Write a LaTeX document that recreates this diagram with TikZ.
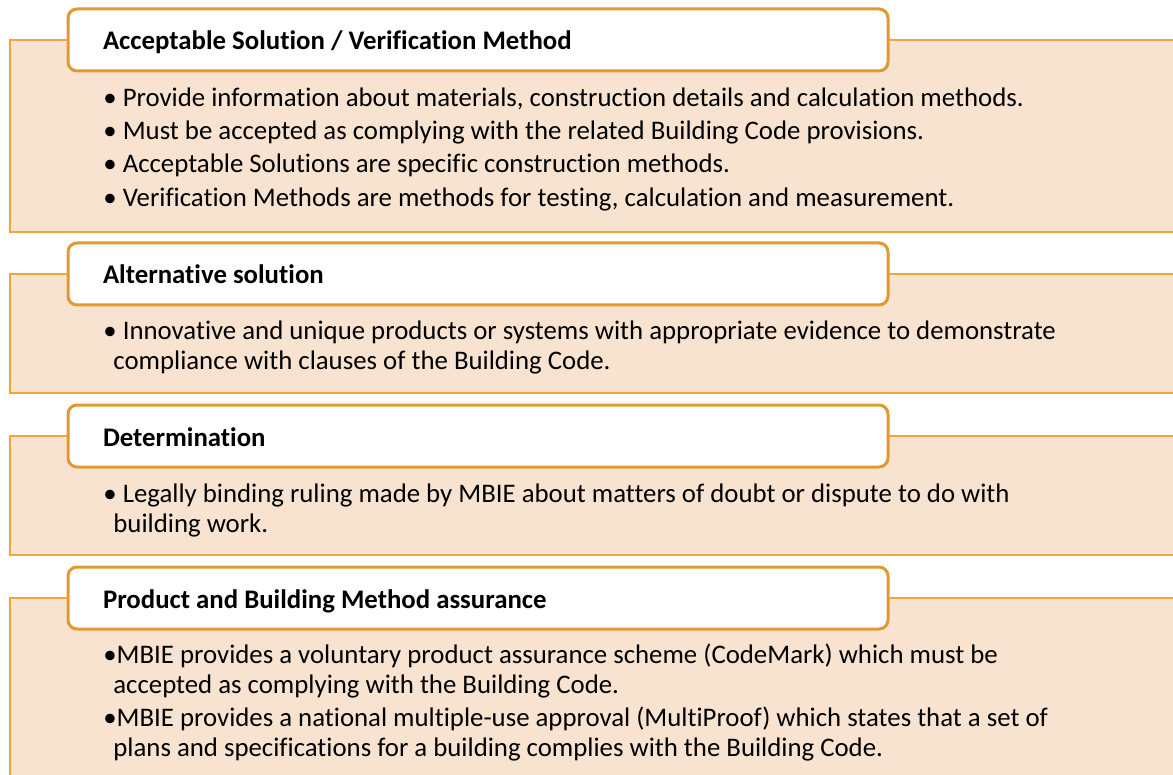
\documentclass[tikz,border=0pt]{standalone}
\usepackage{fontspec}
\setmainfont{Carlito}[Ligatures=NoCommon]
\usetikzlibrary{positioning}
\definecolor{panelfill}{HTML}{F8E3D1}
\definecolor{panelline}{HTML}{F2A53A}
\definecolor{headline}{HTML}{E19A32}

\begin{document}
\begin{tikzpicture}[x=0.5pt,y=-0.5pt]
\tikzset{panel/.style={fill=panelfill,draw=panelline,line width=1.25pt}}
\tikzset{headbox/.style={draw=headline,fill=white,line width=1.5pt,rounded corners=4.5pt,
  minimum width=410pt,minimum height=31pt,inner xsep=17.5pt,inner ysep=0pt,
  text height=10pt,text depth=0pt,font=\bfseries\fontsize{13.4}{15}\selectfont,
  execute at begin node={\hbox to 375pt\bgroup},execute at end node={\hfil\egroup}}}
\tikzset{item/.style={anchor=base west,inner sep=0pt,align=left,font=\fontsize{13.4}{15}\selectfont}}
\useasboundingbox (0,0) rectangle (1173,775);
% panels
\draw[panel] (10,40) rectangle (1190,232);
\draw[panel] (10,274) rectangle (1190,393);
\draw[panel] (10,436) rectangle (1190,555);
\draw[panel] (10,598) rectangle (1190,800);
% headings
\node[headbox] (acc) at (478,40) {Acceptable Solution / Verification Method};
\node[headbox] (alt) at (478,274) {Alternative solution};
\node[headbox] (det) at (478,436) {Determination};
\node[headbox] (pbm) at (478,598) {Product and Building Method assurance};
% bullets (base = last line)
\node[item] (acc1) at (103,106.5) {• Provide information about materials, construction details and calculation methods.};
\node[item] (acc2) at (103,139.5) {• Must be accepted as complying with the related Building Code provisions.};
\node[item] (acc3) at (103,173) {• Acceptable Solutions are specific construction methods.};
\node[item] (acc4) at (103,206.5) {• Verification Methods are methods for testing, calculation and measurement.};
\node[item] (alt1) at (103,370) {• Innovative and unique products or systems with appropriate evidence to demonstrate\\
  \hspace*{5pt}compliance with clauses of the Building Code.};
\node[item] (det1) at (103,532) {• Legally binding ruling made by MBIE about matters of doubt or dispute to do with\\
  \hspace*{5pt}building work.};
\node[item] (pbm1) at (103,693) {•MBIE provides a voluntary product assurance scheme (CodeMark) which must be\\
  \hspace*{5pt}accepted as complying with the Building Code.};
\node[item] (pbm2) at (103,756) {•MBIE provides a national multiple-use approval (MultiProof) which states that a set of\\
  \hspace*{5pt}plans and specifications for a building complies with the Building Code.};
\end{tikzpicture}
\end{document}
